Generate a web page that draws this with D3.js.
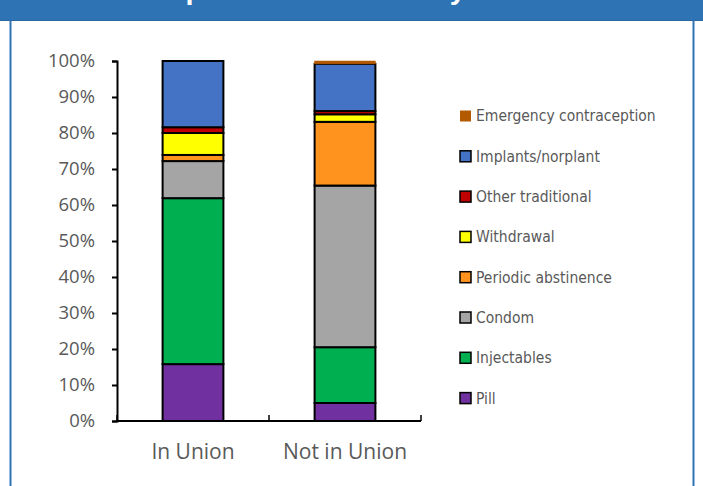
<!DOCTYPE html>
<html><head><meta charset="utf-8">
<script src="https://cdn.jsdelivr.net/npm/d3@7"></script>
<style>html,body{margin:0;padding:0;background:#fff;}svg{display:block;}</style>
</head><body>
<script>
const categories = ["In Union", "Not in Union"];
const methods = ["Pill", "Injectables", "Condom", "Periodic abstinence", "Withdrawal", "Other traditional", "Implants/norplant", "Emergency contraception"];
const inUnion    = [15.8, 46.1, 10.3, 1.7, 6.1, 1.6, 18.4, 0.0];
const notInUnion = [5.0, 15.5, 44.9, 17.7, 2.1, 0.9, 13.1, 0.8];
const colors = ["#7030A0", "#00B050", "#A5A5A5", "#FF931E", "#FFFF00", "#C00000", "#4472C4", "#B35A00"];
const yTicks = [0, 10, 20, 30, 40, 50, 60, 70, 80, 90, 100];
const title = "Contraceptive method mix by union status";

const W = 703, H = 486;
const svg = d3.select("body").append("svg").attr("width", W).attr("height", H);
svg.append("rect").attr("width", W).attr("height", H).attr("fill", "#fff");

// header band + frame
svg.append("rect").attr("x", 0).attr("y", 0).attr("width", W).attr("height", 21).attr("fill", "#2E74B5");
svg.append("line").attr("x1", 0).attr("x2", W).attr("y1", 20.5).attr("y2", 20.5).attr("stroke", "#2A68A3").attr("stroke-width", 1);
svg.append("line").attr("x1", 10.5).attr("x2", 10.5).attr("y1", 21).attr("y2", H).attr("stroke", "#2E74B5").attr("stroke-width", 2);
svg.append("line").attr("x1", 693.5).attr("x2", 693.5).attr("y1", 21).attr("y2", H).attr("stroke", "#2E74B5").attr("stroke-width", 2);
svg.append("text").attr("x", 353).attr("y", -1).attr("text-anchor", "middle")
  .attr("fill", "#fff").attr("font-family", "Liberation Sans, Arial, sans-serif")
  .attr("font-weight", "bold").attr("font-size", 29).text(title);

const x0 = 117, x1 = 421, yTop = 61, yBot = 421;
const x = d3.scaleBand().domain(categories).range([x0, x1]).paddingInner(0.6).paddingOuter(0.3);
const y = d3.scaleLinear().domain([0, 100]).range([yBot, yTop]);

const data = categories.map((c, i) => {
  const vals = i === 0 ? inUnion : notInUnion;
  const o = {cat: c};
  methods.forEach((m, j) => o[m] = vals[j]);
  return o;
});
const stack = d3.stack().keys(methods)(data);

const g = svg.append("g");
stack.forEach((layer, li) => {
  g.selectAll(null).data(layer).enter().append("rect")
    .attr("x", d => x(d.data.cat))
    .attr("width", x.bandwidth())
    .attr("y", d => y(d[1]))
    .attr("height", d => Math.max(0, y(d[0]) - y(d[1])))
    .attr("fill", colors[li])
    .attr("stroke", d => (d[1] - d[0]) > 0 ? (li === 7 ? colors[li] : "#000") : "none")
    .attr("stroke-width", li === 7 ? 0.5 : 2);
});

// y axis
const yAxis = d3.axisLeft(y).tickValues(yTicks).tickFormat(d => d + "%").tickSize(5).tickSizeOuter(5);
const ya = svg.append("g").attr("transform", `translate(${x0},0)`).call(yAxis);
ya.select(".domain").attr("stroke", "#000").attr("stroke-width", 2);
ya.selectAll(".tick line").attr("stroke", "#000").attr("stroke-width", 2);
ya.selectAll(".tick text").attr("x", -22).attr("fill", "#595959")
  .attr("font-family", "Open Sans, sans-serif").attr("font-size", 18.5);

// x axis
const xa = svg.append("g").attr("transform", `translate(0,${yBot})`);
xa.append("line").attr("x1", x0).attr("x2", x1).attr("y1", 0).attr("y2", 0).attr("stroke", "#000").attr("stroke-width", 2);
const bounds = [x0, (x0 + x1) / 2, x1];
xa.selectAll(null).data(bounds).enter().append("line")
  .attr("x1", d => d).attr("x2", d => d).attr("y1", 0).attr("y2", -6)
  .attr("stroke", "#000").attr("stroke-width", 1.5);
xa.selectAll(null).data(categories).enter().append("text")
  .attr("x", d => x(d) + x.bandwidth() / 2).attr("y", 38)
  .attr("text-anchor", "middle").attr("fill", "#595959")
  .attr("font-family", "Open Sans, sans-serif").attr("font-size", 21).text(d => d);

// legend
const legOrder = methods.map((m, i) => ({m, c: colors[i], i})).reverse();
const lg = svg.append("g");
legOrder.forEach((d, k) => {
  const cy = 116 + k * 40.3;
  lg.append("rect").attr("x", 460).attr("y", cy - 5.5).attr("width", 11).attr("height", 11)
    .attr("fill", d.c).attr("stroke", d.i === 7 ? "none" : "#000").attr("stroke-width", 1.5);
  lg.append("text").attr("x", 476).attr("y", cy).attr("dy", "0.35em")
    .attr("fill", "#595959").attr("font-family", "DejaVu Sans Condensed, DejaVu Sans, sans-serif")
    .attr("font-stretch", "condensed")
    .attr("font-size", 15.5).text(d.m);
});
</script>
</body></html>
